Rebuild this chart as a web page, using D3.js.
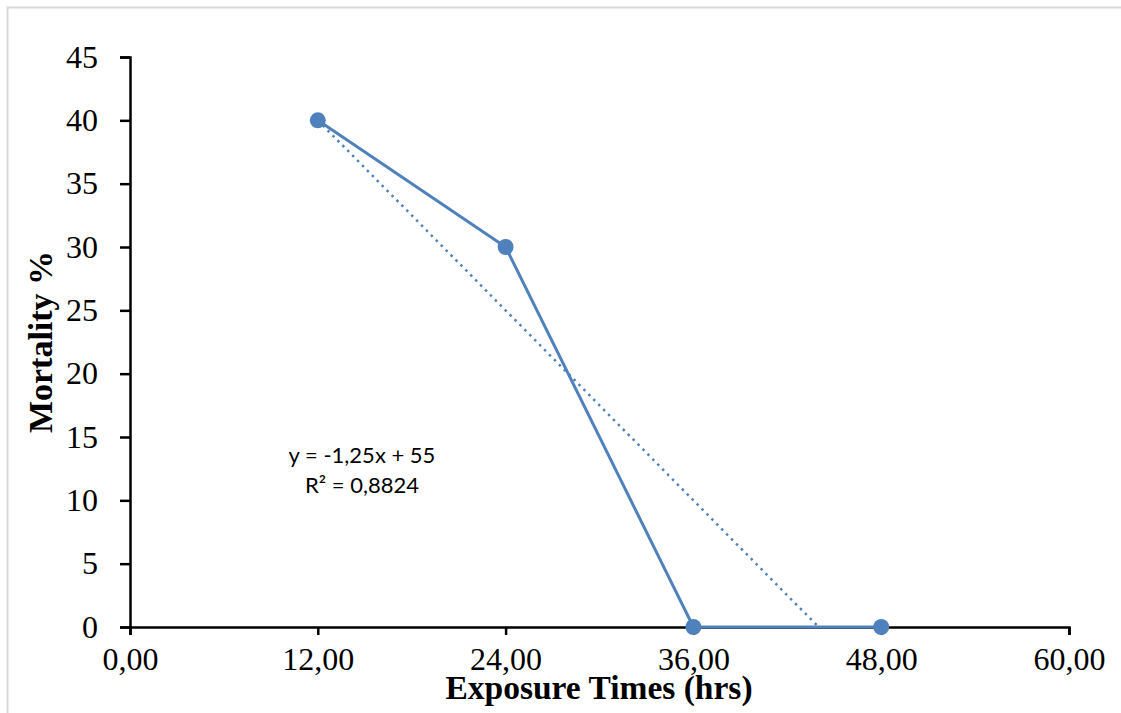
<!DOCTYPE html>
<html lang="en">
<head>
	<meta charset="utf-8"/>
	<title>Mortality vs Exposure Time</title>
	<script src="https://d3js.org/d3.v7.min.js"></script>
	<style>
		body { margin: 0; background: #fff; }
		.axis .domain { stroke: #000; stroke-width: 2.5px; }
		.axis line { stroke: #000; stroke-width: 2.5px; }
		.axis text { font-family: "Liberation Serif", "Times New Roman", serif; font-size: 32px; fill: #000; }
	</style>
</head>
<body>
<div id="chart"></div>
<script>
	// data
	var exposureHours = [12, 24, 36, 48];
	var mortality = [40, 30, 0, 0];
	var xTicks = [0, 12, 24, 36, 48, 60];
	var yTicks = [0, 5, 10, 15, 20, 25, 30, 35, 40, 45];
	// linear trendline as printed on the chart
	var trendSlope = -1.25, trendIntercept = 55;
	var trendRange = [12, 44];
	var equationLines = ["y = -1,25x + 55", "R² = 0,8824"];

	var width = 1121, height = 713;
	var m = {top: 57, right: 52, bottom: 86, left: 130};
	var blue = "#4f81bd";

	var svg = d3.select("#chart").append("svg")
		.attr("width", width)
		.attr("height", height);

	// light frame round the chart area
	svg.append("rect")
		.attr("x", 7.5).attr("y", 7.5)
		.attr("width", width).attr("height", height)
		.attr("fill", "none")
		.attr("stroke", "#d9d9d9")
		.attr("stroke-width", 2);

	var x = d3.scaleLinear().domain([0, 60]).range([m.left, width - m.right]);
	var y = d3.scaleLinear().domain([0, 45]).range([height - m.bottom, m.top]);

	var fmt = function(d) { return d3.format(".2f")(d).replace(".", ","); };

	svg.append("g")
		.attr("class", "axis")
		.attr("transform", "translate(0," + y(0) + ")")
		.call(d3.axisBottom(x).tickValues(xTicks).tickFormat(fmt).tickSizeInner(8).tickSizeOuter(8).tickPadding(12));

	svg.append("g")
		.attr("class", "axis")
		.attr("transform", "translate(" + x(0) + ",0)")
		.call(d3.axisLeft(y).tickValues(yTicks).tickSizeInner(10).tickSizeOuter(10).tickPadding(22));

	// dotted trendline
	svg.append("path")
		.datum(trendRange)
		.attr("fill", "none")
		.attr("stroke", blue)
		.attr("stroke-width", 2.5)
		.attr("stroke-dasharray", "2.5,4.5")
		.attr("d", d3.line()
			.x(function(d) { return x(d); })
			.y(function(d) { return y(trendSlope * d + trendIntercept); }));

	// series line + markers
	var pts = exposureHours.map(function(d, i) { return [d, mortality[i]]; });

	svg.append("path")
		.datum(pts)
		.attr("fill", "none")
		.attr("stroke", blue)
		.attr("stroke-width", 3)
		.attr("d", d3.line()
			.x(function(d) { return x(d[0]); })
			.y(function(d) { return y(d[1]); }));

	svg.selectAll("circle.pt")
		.data(pts)
		.enter().append("circle")
		.attr("class", "pt")
		.attr("cx", function(d) { return x(d[0]); })
		.attr("cy", function(d) { return y(d[1]); })
		.attr("r", 8)
		.attr("fill", blue);

	// trendline label
	svg.append("g")
		.attr("font-family", "Lato, 'Open Sans', sans-serif")
		.attr("font-size", 22)
		.attr("text-anchor", "middle")
		.attr("fill", "#000")
		.selectAll("text")
		.data(equationLines)
		.enter().append("text")
		.attr("x", 362)
		.attr("y", function(d, i) { return 463 + i * 30; })
		.text(function(d) { return d; });

	// axis titles
	svg.append("text")
		.attr("x", 599)
		.attr("y", 699)
		.attr("text-anchor", "middle")
		.attr("font-family", "'Liberation Serif', serif")
		.attr("font-weight", "bold")
		.attr("font-size", 33.5)
		.text("Exposure Times (hrs)");

	svg.append("text")
		.attr("transform", "translate(52," + y(22.5) + ") rotate(-90)")
		.attr("text-anchor", "middle")
		.attr("font-family", "'Liberation Serif', serif")
		.attr("font-weight", "bold")
		.attr("font-size", 34)
		.text("Mortality %");
</script>
</body>
</html>
